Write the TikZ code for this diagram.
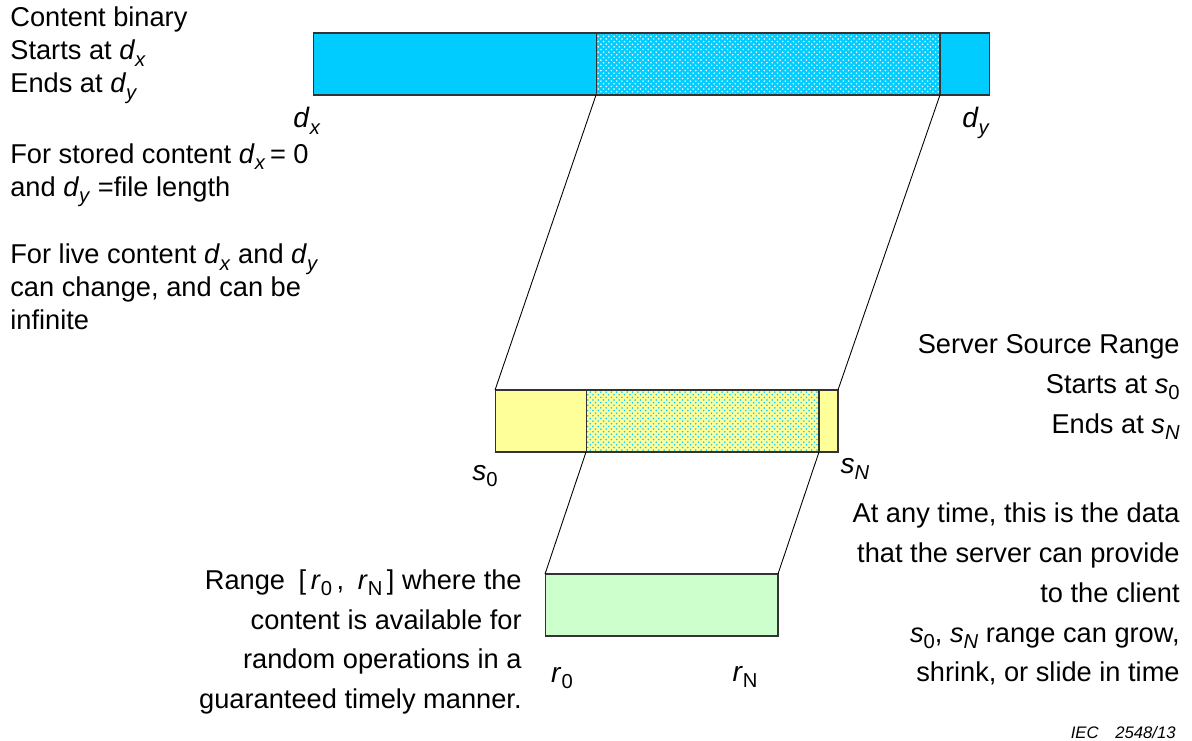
\documentclass[tikz,border=0pt]{standalone}
\usepackage{fontspec}
\setmainfont{Liberation Sans}
\usetikzlibrary{patterns}
\newcommand{\isub}[2]{\textit{#1}\raisebox{-0.45ex}{\fontsize{11.5}{12}\selectfont #2}}
\definecolor{cyanbar}{HTML}{00CCFF}
\definecolor{yellowbar}{HTML}{FFFF99}
\definecolor{greenbar}{HTML}{CCFFCC}
\tikzset{
  bar/.style={draw=black!80,line width=0.6pt,minimum height=1.24cm,
    inner sep=0pt,outer sep=0pt},
  winbar/.style={bar,preaction={fill=#1},pattern=crosshatch dots},
  lbl/.style={font=\fontsize{16}{18}\selectfont,inner sep=0pt},
  txt/.style={font=\fontsize{15.5}{18.8}\selectfont,inner sep=0pt,align=left,anchor=west},
  rtxt/.style={font=\fontsize{15.5}{22.7}\selectfont,inner sep=0pt,align=right,anchor=east},
  link/.style={line width=0.5pt,black},
}
\begin{document}
\begin{tikzpicture}[x=0.02cm,y=-0.02cm]
  \useasboundingbox (0,0) rectangle (1192,740);
  % bars
  \node[bar,fill=cyanbar,minimum width=13.54cm] (content) at (651.5,64) {};
  \node[winbar=cyanbar,pattern color=white,minimum width=6.88cm] (dwin) at (768,64) {};
  \node[bar,fill=yellowbar,minimum width=6.86cm] (srange) at (666.5,421) {};
  \node[winbar=yellowbar,pattern color=cyanbar,minimum width=4.66cm] (swin) at (702.5,421) {};
  \node[bar,fill=greenbar,minimum width=4.66cm] (rrange) at (661.5,605) {};
  % links between ranges
  \draw[link] (dwin.south west) -- (srange.north west);
  \draw[link] (dwin.south east) -- (srange.north east);
  \draw[link] (swin.south west) -- (rrange.north west);
  \draw[link] (swin.south east) -- (rrange.north east);
  % end point labels
  \node[lbl] (dx) at (307,121) {\isub{d}{\textit{x}}};
  \node[lbl] (dy) at (976,123) {\isub{d}{\textit{y}}};
  \node[lbl] (s0) at (485,476) {\isub{s}{0}};
  \node[lbl] (sN) at (855,469) {\isub{s}{\textit{N}}};
  \node[lbl] (r0) at (562,678) {\isub{r}{0}};
  \node[lbl] (rN) at (745,677) {\isub{r}{N}};
  % left notes
  \node[txt] (binnote) at (10,55) {Content binary\\Starts at \isub{d}{\textit{x}}\\Ends at \isub{d}{\textit{y}}};
  \node[txt] (storenote) at (10,175) {For stored content \isub{d}{\textit{x}}\,= 0\\and \isub{d}{\textit{y}} =file length};
  \node[txt] (livenote) at (10,287) {For live content \isub{d}{\textit{x}} and \isub{d}{\textit{y}}\\can change, and can be\\infinite};
  % right notes
  \node[rtxt] (srvnote) at (1180,387) {Server Source Range\\Starts at \isub{s}{0}\\Ends at \isub{s}{\textit{N}}};
  \node[rtxt] (datanote) at (1180,594) {At any time, this is the data\\that the server can provide\\to the client\\\isub{s}{0}, \isub{s}{\textit{N}} range can grow,\\shrink, or slide in time};
  \node[rtxt] (rangenote) at (522,642) {Range\enspace[\,\isub{r}{0}\,,\enspace\isub{r}{N}\,] where the\\content is available for\\random operations in a\\guaranteed timely manner.};
  \node[font=\fontsize{9.5}{11}\selectfont\itshape,anchor=east,inner sep=0pt] (iec) at (1176,733) {IEC\quad 2548/13};
\end{tikzpicture}
\end{document}
